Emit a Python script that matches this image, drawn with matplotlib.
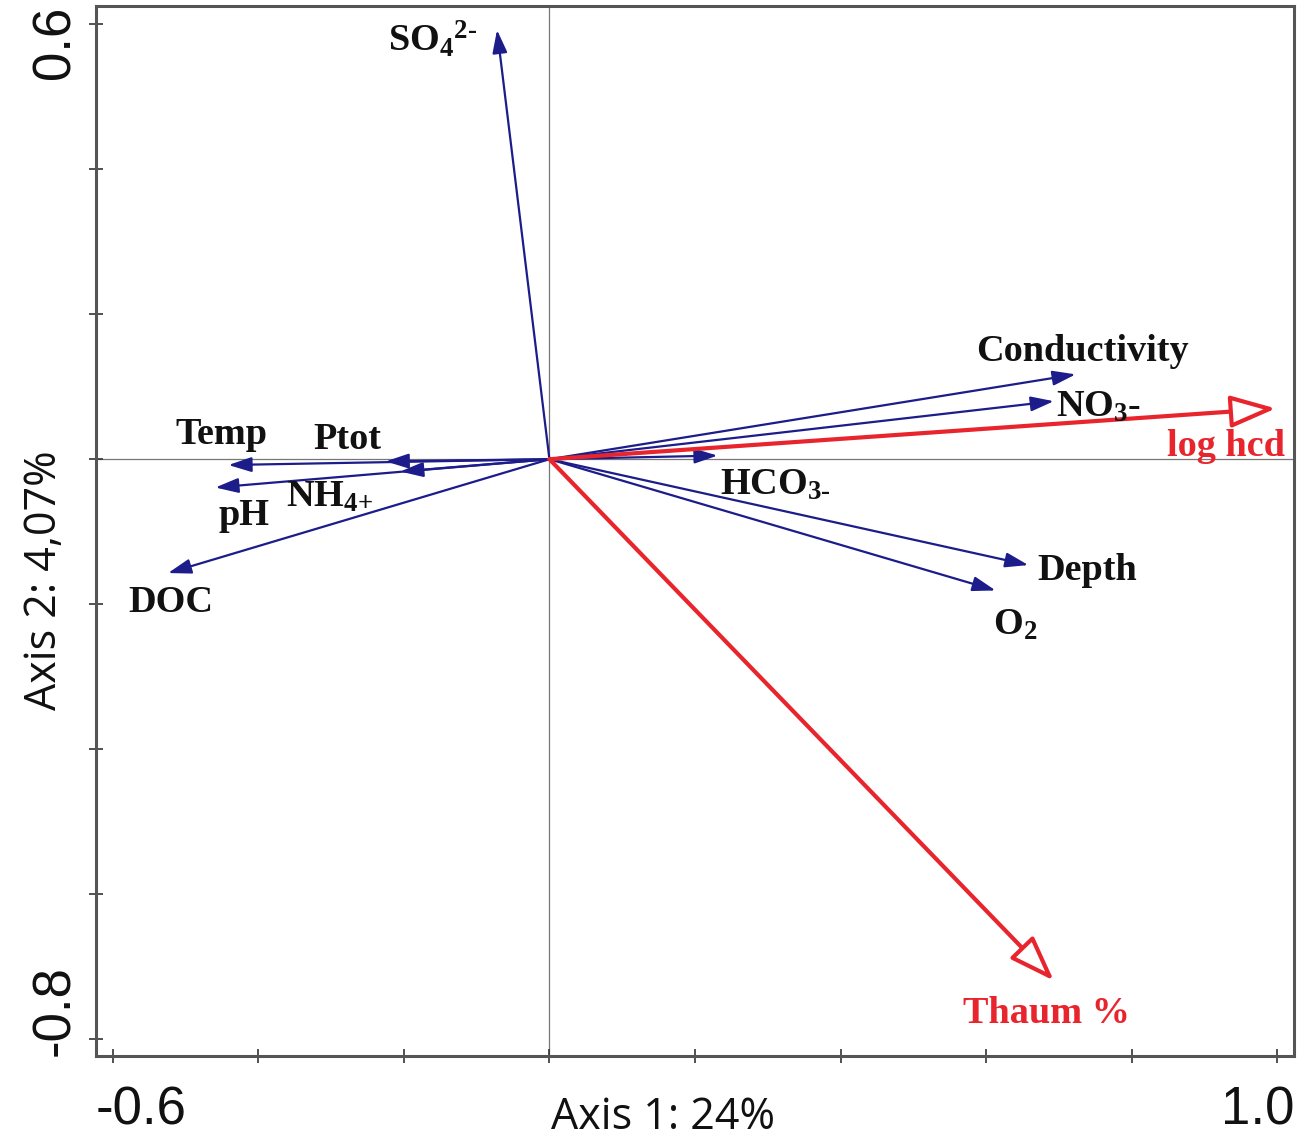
import matplotlib
matplotlib.use("Agg")
import matplotlib.pyplot as plt
from matplotlib.patches import FancyArrowPatch, ArrowStyle

plt.rcParams['mathtext.fontset'] = 'custom'
plt.rcParams['mathtext.rm'] = 'Liberation Serif:bold'
plt.rcParams['mathtext.it'] = 'Liberation Serif:bold'
plt.rcParams['mathtext.bf'] = 'Liberation Serif:bold'

# Environmental variables (blue arrows)
env_names = ['SO$_4$$^{\\text{2-}}$', 'Conductivity', 'NO$_3$-', 'HCO$_{\\text{3-}}$', 'Depth', 'O$_2$',
             'Temp', 'Ptot', 'NH$_{\\text{4+}}$', 'pH', 'DOC']
env_x = [-0.072, 0.723, 0.693, 0.231, 0.658, 0.613, -0.441, -0.225, -0.205, -0.459, -0.524]
env_y = [0.592, 0.117, 0.080, 0.005, -0.146, -0.181, -0.008, -0.003, -0.017, -0.039, -0.157]
env_lab_x = [-0.160, 0.733, 0.755, 0.310, 0.739, 0.640, -0.450, -0.278, -0.302, -0.420, -0.520]
env_lab_y = [0.580, 0.148, 0.072, -0.036, -0.153, -0.229, 0.034, 0.027, -0.052, -0.078, -0.197]

# Response variables (red arrows)
resp_names = ['log hcd', 'Thaum %']
resp_x = [0.998, 0.693]
resp_y = [0.070, -0.719]
resp_lab_x = [0.929, 0.683]
resp_lab_y = [0.017, -0.764]

xlim = (-0.623, 1.023)
ylim = (-0.823, 0.625)
xticks = [-0.6, -0.4, -0.2, 0.0, 0.2, 0.4, 0.6, 0.8, 1.0]
yticks = [-0.8, -0.6, -0.4, -0.2, 0.0, 0.2, 0.4, 0.6]
xtick_labels = ['-0.6', '1.0']
ytick_labels = ['-0.8', '0.6']
xlabel = 'Axis 1: 24%'
ylabel = 'Axis 2: 4,07%'

blue = '#1c1c8a'
red = '#e8252d'

fig = plt.figure(figsize=(13.13, 11.43), dpi=100)
ax = fig.add_axes([96/1313, 1 - 1056/1143, (1294-96)/1313, (1056-6)/1143])
ax.set_xlim(*xlim)
ax.set_ylim(*ylim)
for s in ax.spines.values():
    s.set_linewidth(2.2)
    s.set_color('#555555')
ax.set_xticks(xticks)
ax.set_yticks(yticks)
ax.set_xticklabels([])
ax.set_yticklabels([])
ax.tick_params(direction='inout', length=10, width=1.2, color='#333333')

ax.axhline(0, color='#777777', lw=0.9, zorder=1)
ax.axvline(0, color='#777777', lw=0.9, zorder=1)

blue_style = ArrowStyle('-|>', head_length=14, head_width=4.5)
for x, y in zip(env_x, env_y):
    a = FancyArrowPatch((0, 0), (x, y), arrowstyle=blue_style, mutation_scale=1,
                        color=blue, lw=1.6, shrinkA=0, shrinkB=0, zorder=3)
    ax.add_patch(a)

red_style = ArrowStyle('-|>', head_length=28, head_width=10)
for x, y in zip(resp_x, resp_y):
    a = FancyArrowPatch((0, 0), (x, y), arrowstyle=red_style, mutation_scale=1,
                        fc='white', ec=red, lw=3.0, shrinkA=0, shrinkB=0, zorder=4)
    ax.add_patch(a)

lab_font = dict(family='Liberation Serif', weight='bold', fontsize=27.5)
for n, x, y in zip(env_names, env_lab_x, env_lab_y):
    ax.text(x, y, n, color='#111111', ha='center', va='center', zorder=5, **lab_font)
for n, x, y in zip(resp_names, resp_lab_x, resp_lab_y):
    ax.text(x, y, n, color=red, ha='center', va='center', zorder=5, **lab_font)

tick_font = dict(family='Liberation Sans', fontsize=38, color='#111111')
ax.text(0.0, -0.028, xtick_labels[0], transform=ax.transAxes, ha='left', va='top', **tick_font)
ax.text(1.0, -0.028, xtick_labels[1], transform=ax.transAxes, ha='right', va='top', **tick_font)
ax.text(-0.013, 0.0, ytick_labels[0], transform=ax.transAxes, ha='right', va='bottom',
        rotation=90, **tick_font)
ax.text(-0.013, 1.0, ytick_labels[1], transform=ax.transAxes, ha='right', va='top',
        rotation=90, **tick_font)

lbl_font = dict(family='Open Sans', fontsize=31, color='#111111')
fig.text(663/1313, 1 - 1118/1143, xlabel, ha='center', va='center', **lbl_font)
fig.text(45/1313, 1 - 580/1143, ylabel, ha='center', va='center', rotation=90, **lbl_font)

fig.savefig('out.png', dpi=100)
